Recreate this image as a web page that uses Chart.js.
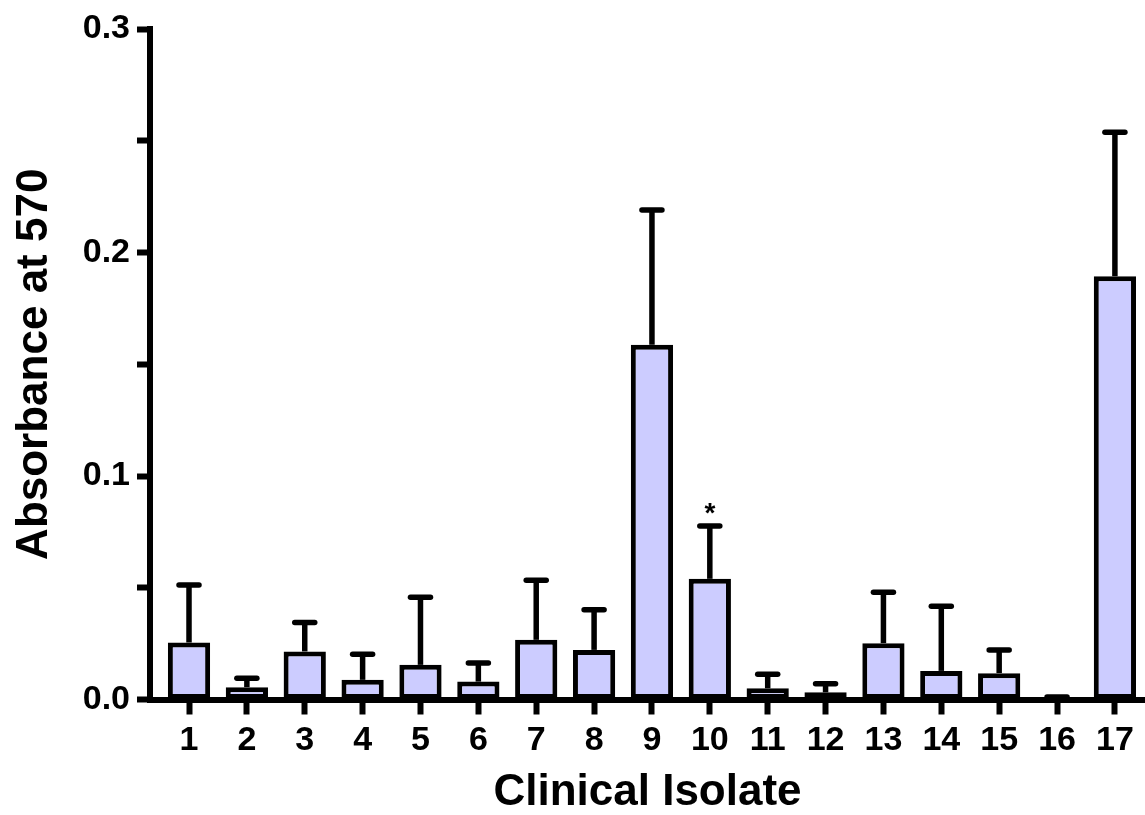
<!DOCTYPE html>
<html>
<head>
<meta charset="utf-8">
<script src="https://cdn.jsdelivr.net/npm/chart.js@4.4.1/dist/chart.umd.min.js"></script>
<style>
  html, body { margin: 0; padding: 0; background: #ffffff; }
  #wrap { width: 1145px; height: 815px; position: relative; }
</style>
</head>
<body>
<div id="wrap"><canvas id="c"></canvas></div>
<script>
// ---- data ----
const categories = ['1','2','3','4','5','6','7','8','9','10','11','12','13','14','15','16','17'];
const means = [0.0255, 0.0055, 0.0215, 0.0088, 0.0155, 0.0080, 0.0267, 0.0222, 0.1587, 0.0540, 0.0050, 0.0032, 0.0252, 0.0128, 0.0118, 0.0005, 0.1894];
const sds   = [0.0257, 0.0040, 0.0130, 0.0115, 0.0302, 0.0083, 0.0266, 0.0180, 0.0603, 0.0236, 0.0063, 0.0038, 0.0228, 0.0289, 0.0104, 0.0006, 0.0644];
const marks = ['', '', '', '', '', '', '', '', '', '*', '', '', '', '', '', '', ''];
const yTicks = [0, 0.05, 0.1, 0.15, 0.2, 0.25, 0.3];
const yTitle = 'Absorbance at 570';
const xTitle = 'Clinical Isolate';

const FONT = '"Liberation Sans", Arial, Helvetica, sans-serif';

const errorBars = {
  id: 'errorBars',
  afterDatasetsDraw(chart) {
    const meta = chart.getDatasetMeta(0);
    const yS = chart.scales.y;
    const ctx = chart.ctx;
    ctx.save();
    ctx.strokeStyle = '#000';
    ctx.fillStyle = '#000';
    meta.data.forEach((el, i) => {
      const x = el.x;
      const yBar = yS.getPixelForValue(means[i]);
      const yTop = yS.getPixelForValue(means[i] + sds[i]);
      ctx.lineWidth = 5.5;
      ctx.lineCap = 'butt';
      ctx.beginPath();
      ctx.moveTo(x, yBar);
      ctx.lineTo(x, yTop);
      ctx.stroke();
      ctx.lineCap = 'round';
      ctx.beginPath();
      ctx.moveTo(x - 10, yTop);
      ctx.lineTo(x + 10, yTop);
      ctx.stroke();
      if (marks[i]) {
        ctx.font = 'bold 28px ' + FONT;
        ctx.textAlign = 'center';
        ctx.textBaseline = 'middle';
        ctx.fillText(marks[i], x, yTop - 12);
      }
    });
    ctx.restore();
  }
};

new Chart(document.getElementById('c'), {
  type: 'bar',
  data: {
    datasets: [{
      data: means.map((v, i) => ({ x: i + 1, y: v })),
      backgroundColor: '#ccccff',
      borderColor: '#000000',
      borderWidth: 5,
      borderSkipped: false,
      barPercentage: 0.73,
      categoryPercentage: 1.0
    }]
  },
  options: {
    responsive: true,
    maintainAspectRatio: false,
    animation: false,
    layout: { padding: { top: 29, right: 0, bottom: 0, left: 0 } },
    plugins: { legend: { display: false }, tooltip: { enabled: false } },
    scales: {
      x: {
        type: 'linear',
        offset: false,
        min: 0.326,
        max: 17.52,
        afterBuildTicks: (s) => { s.ticks = categories.map((c, i) => ({ value: i + 1 })); },
        afterFit: (s) => { s.height = 115.5; },
        ticks: {
          autoSkip: false,
          maxRotation: 0,
          padding: 6,
          color: '#000',
          font: { family: FONT, size: 34, weight: 'bold' },
          callback: (v) => categories[Math.round(v) - 1]
        },
        grid: { display: true, offset: false, drawOnChartArea: false, drawTicks: true, tickLength: 15, tickWidth: 6, tickColor: '#000' },
        border: { display: true, color: '#000', width: 6 },
        title: {
          display: true,
          text: xTitle,
          color: '#000',
          font: { family: FONT, size: 44, weight: 'bold', lineHeight: 1.0 },
          padding: { top: 0, bottom: 0 }
        }
      },
      y: {
        type: 'linear',
        min: 0,
        max: 0.3,
        afterBuildTicks: (s) => { s.ticks = yTicks.map(v => ({ value: v })); },
        afterFit: (s) => { s.width = 150; },
        ticks: {
          padding: 7,
          color: '#000',
          font: { family: FONT, size: 34, weight: 'bold' },
          callback: (v) => (Math.abs(Math.round(v * 10) - v * 10) < 1e-6 ? v.toFixed(1) : '')
        },
        grid: { display: true, drawOnChartArea: false, drawTicks: true, tickLength: 13, tickWidth: 6, tickColor: '#000' },
        border: { display: true, color: '#000', width: 6 },
        title: {
          display: true,
          text: yTitle,
          color: '#000',
          font: { family: FONT, size: 44, weight: 'bold', lineHeight: 1.2 },
          padding: { top: 8, bottom: 0 }
        }
      }
    }
  },
  plugins: [errorBars]
});
</script>
</body>
</html>
